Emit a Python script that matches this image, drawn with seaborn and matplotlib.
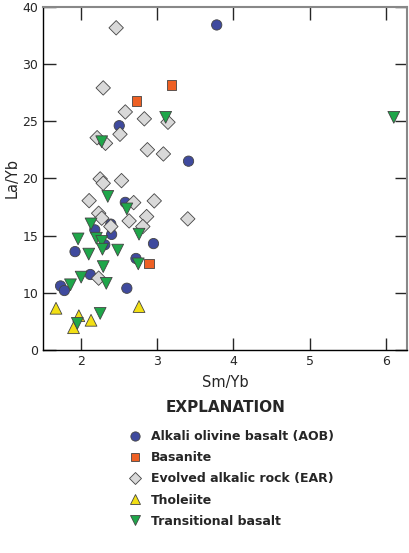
import matplotlib
matplotlib.use("Agg")
import matplotlib.pyplot as plt
import numpy as np
import pandas as pd
import seaborn as sns

# Sm/Yb and La/Yb values per rock type
aob_x = [3.78, 2.50, 3.41, 2.58, 2.39, 2.18, 2.40, 2.31, 2.95, 1.92, 2.72, 2.12, 1.73, 1.78, 2.60]
aob_y = [36.8, 24.6, 21.5, 17.9, 16.0, 15.5, 15.1, 14.2, 14.3, 13.6, 13.0, 11.6, 10.6, 10.2, 10.4]

bas_x = [3.19, 2.73, 2.89]
bas_y = [28.15, 26.75, 12.56]

ear_x = [2.46, 2.29, 2.58, 2.83, 3.14, 2.21, 2.32, 2.51, 2.87, 3.08, 2.25, 2.29,
         2.53, 2.105, 2.69, 2.96, 2.23, 2.27, 2.63, 2.86, 2.81, 2.39, 3.40, 2.23]
ear_y = [36.3, 27.9, 25.8, 25.2, 24.9, 23.55, 23.06, 23.85, 22.5, 22.13, 19.95, 19.57,
         19.8, 18.05, 17.88, 18.03, 16.95, 16.52, 16.28, 16.66, 15.79, 15.79, 16.46, 11.28]

tho_x = [1.67, 1.97, 2.13, 1.90, 2.76]
tho_y = [7.3, 6.0, 5.2, 3.9, 7.6]

tb_x = [6.105, 3.11, 2.27, 2.35, 2.60, 2.13, 2.76, 1.96, 2.20, 2.27, 2.28, 2.48,
        2.10, 2.75, 2.29, 2.00, 2.33, 1.86, 2.25, 1.95]
tb_y = [25.33, 25.33, 23.2, 18.42, 17.33, 16.02, 15.12, 14.71, 14.77, 14.49, 13.81, 13.73,
        13.38, 12.53, 12.29, 11.37, 10.83, 10.70, 6.40, 4.66]

groups = ["Alkali olivine basalt (AOB)", "Basanite", "Evolved alkalic rock (EAR)",
          "Tholeiite", "Transitional basalt"]
yticks = [0, 10, 15, 20, 25, 30, 40]

frames = []
for name, xs, ys in zip(groups, [aob_x, bas_x, ear_x, tho_x, tb_x],
                        [aob_y, bas_y, ear_y, tho_y, tb_y]):
    frames.append(pd.DataFrame({"Sm/Yb": xs, "La/Yb": ys, "type": name}))
df = pd.concat(frames, ignore_index=True)

palette = dict(zip(groups, ["#3f4a9e", "#ee6024", "#d9d9d9", "#f2df14", "#1fa64a"]))
markers = dict(zip(groups, ["o", "s", "D", "^", "v"]))
sizes = dict(zip(groups, [55, 45, 54, 72, 72]))


# compressed axis: 0-10 and 30-40 take half the room of the middle part
def fwd(v):
    v = np.asarray(v, dtype=float)
    return np.where(v < 10, 5 + v / 2, np.where(v > 30, 30 + (v - 30) / 2, v))


def inv(p):
    p = np.asarray(p, dtype=float)
    return np.where(p < 10, (p - 5) * 2, np.where(p > 30, 30 + (p - 30) * 2, p))


sns.set_style("ticks")
plt.rcParams["font.family"] = ["DejaVu Sans"]

fig = plt.figure(figsize=(4.10, 5.53), dpi=100)
ax = fig.add_axes([0.105, 0.367, 0.888, 0.621])

sns.scatterplot(data=df, x="Sm/Yb", y="La/Yb", hue="type", style="type", size="type",
                hue_order=groups, style_order=groups, size_order=groups,
                palette=palette, markers=markers, sizes=sizes,
                edgecolor="#444444", linewidth=0.6, ax=ax)

ax.set_yscale("function", functions=(fwd, inv))
ax.set_ylim(0, 40)
ax.set_yticks(yticks)
ax.set_yticklabels([str(t) for t in yticks])
ax.set_xlim(1.5, 6.28)
ax.set_xticks([2, 3, 4, 5, 6])
ax.minorticks_off()

ax.tick_params(direction="in", length=9, width=1, labelsize=9, top=True, right=True)
for side in ["top", "right"]:
    ax.spines[side].set_visible(True)
    ax.spines[side].set_color("#888888")
    ax.spines[side].set_linewidth(1.5)
for side in ["left", "bottom"]:
    ax.spines[side].set_color("black")
    ax.spines[side].set_linewidth(1)

ax.set_xlabel("Sm/Yb", fontsize=10.5, labelpad=5)
ax.set_ylabel("La/Yb", fontsize=10.5, labelpad=2)

sns.move_legend(ax, "upper left", bbox_to_anchor=(0.299, 0.222), bbox_transform=fig.transFigure,
                frameon=False, title=None, prop={"weight": "bold", "size": 9},
                borderpad=0, borderaxespad=0,
                handletextpad=0.3, labelspacing=0.65, markerscale=0.9)
fig.text(0.551, 0.264, "EXPLANATION", ha="center", va="center", fontsize=11, fontweight="bold")

fig.savefig("out.png", dpi=100)
